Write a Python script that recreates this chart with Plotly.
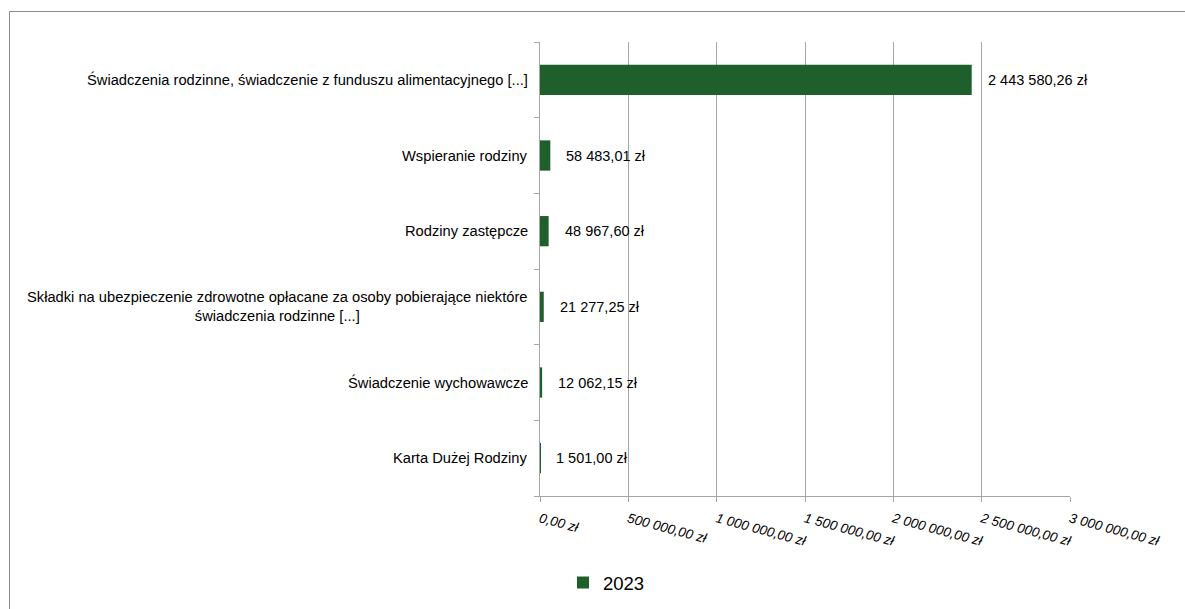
import plotly.graph_objects as go

# Kwoty wydatków w 2023 r. (zł)
categories = [
    "Świadczenia rodzinne, świadczenie z funduszu alimentacyjnego [...]",
    "Wspieranie rodziny",
    "Rodziny zastępcze",
    "Składki na ubezpieczenie zdrowotne opłacane za osoby pobierające niektóre<br>świadczenia rodzinne [...]",
    "Świadczenie wychowawcze",
    "Karta Dużej Rodziny",
]
values_2023 = [2443580.26, 58483.01, 48967.60, 21277.25, 12062.15, 1501.00]
series_name = "2023"
tick_values = [0, 500000, 1000000, 1500000, 2000000, 2500000, 3000000]
tick_labels = ["0,00 zł", "500 000,00 zł", "1 000 000,00 zł", "1 500 000,00 zł",
               "2 000 000,00 zł", "2 500 000,00 zł", "3 000 000,00 zł"]


def pln(v):
    s = f"{v:,.2f}"
    whole, frac = s.split(".")
    return whole.replace(",", " ") + "," + frac + " zł"


GREEN = "#1F5F2B"
GRID = "#A6A6A6"
FONT = "Liberation Sans, Arial, sans-serif"

fig = go.Figure()
fig.add_trace(go.Bar(
    x=values_2023,
    y=categories,
    orientation="h",
    name=series_name,
    marker=dict(color=GREEN, line=dict(width=0)),
    showlegend=True,
))

W, H = 1185, 609
L, R, T, B = 540, 115, 42, 113
pw, ph = W - L - R, H - T - B

annotations = []
# etykiety wartości przy słupkach
for cat, v in zip(categories, values_2023):
    annotations.append(dict(
        x=v, y=cat, xref="x", yref="y", text=pln(v), showarrow=False,
        xanchor="left", xshift=14, font=dict(family=FONT, size=14.5, color="#000000"),
    ))
# etykiety kategorii (wyśrodkowane wiersze)
for cat in categories:
    annotations.append(dict(
        x=0, y=cat, xref="paper", yref="y", text=cat, showarrow=False,
        xanchor="right", xshift=-10, align="center",
        font=dict(family=FONT, size=14.7, color="#000000"),
    ))

# ramka wykresu
px = lambda p: (p - L) / pw
py = lambda p: (H - B - p) / ph
shapes = [dict(
    type="rect", xref="paper", yref="paper",
    x0=px(9.5), y0=py(H + 5), x1=px(W + 5), y1=py(11.5),
    line=dict(color="#8C8C8C", width=1), fillcolor="rgba(0,0,0,0)", layer="below",
)]

fig.update_layout(
    width=W, height=H,
    margin=dict(l=L, r=R, t=T, b=B, pad=0, autoexpand=False),
    paper_bgcolor="white", plot_bgcolor="white",
    bargap=0.6,
    font=dict(family=FONT, size=14, color="#000000"),
    xaxis=dict(
        range=[0, 3000000], tickvals=tick_values, ticktext=tick_labels,
        tickangle=15, tickfont=dict(family=FONT, size=13.5, style="italic", color="#000000"),
        showgrid=True, gridcolor=GRID, gridwidth=1,
        showline=True, linecolor=GRID, linewidth=1,
        ticks="outside", ticklen=5, tickcolor=GRID, zeroline=False,
        ticklabelstandoff=4, automargin=False,
    ),
    yaxis=dict(
        type="category", categoryorder="array", categoryarray=categories[::-1],
        autorange=False, range=[-0.5, len(categories) - 0.5],
        showticklabels=False, showgrid=False,
        showline=True, linecolor=GRID, linewidth=1,
        ticks="outside", ticklen=5, tickcolor=GRID, tickson="boundaries",
        automargin=False,
    ),
    legend=dict(
        orientation="h", x=px(563), xanchor="left", y=py(583), yanchor="middle",
        font=dict(family=FONT, size=18.5, color="#000000"),
        itemwidth=30, bgcolor="rgba(0,0,0,0)",
    ),
    annotations=annotations,
    shapes=shapes,
)

fig.write_html("out.html")
